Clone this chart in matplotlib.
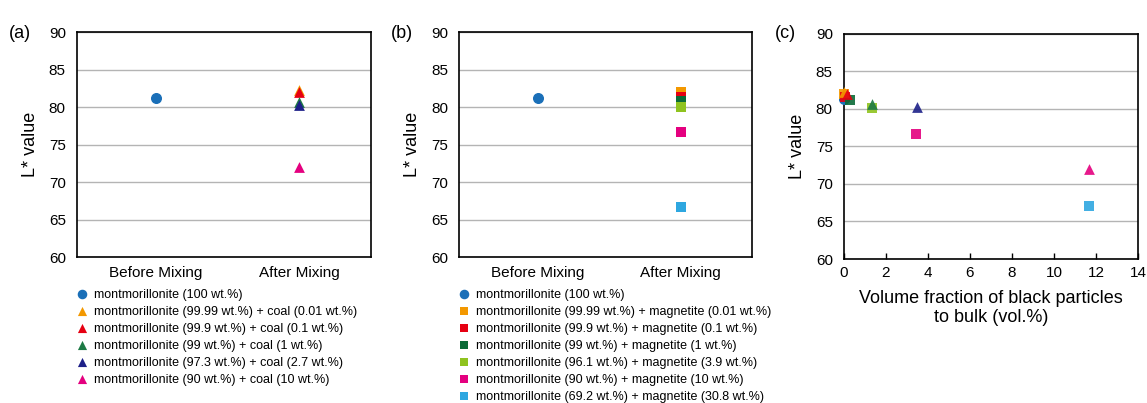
import matplotlib.pyplot as plt

plt.rcParams['font.family'] = ['Liberation Sans', 'DejaVu Sans']

# data
categories = ["Before Mixing", "After Mixing"]

base_label = "montmorillonite (100 wt.%)"
base_L = 81.3

coal_labels = ["montmorillonite (99.99 wt.%) + coal (0.01 wt.%)",
               "montmorillonite (99.9 wt.%) + coal (0.1 wt.%)",
               "montmorillonite (99 wt.%) + coal (1 wt.%)",
               "montmorillonite (97.3 wt.%) + coal (2.7 wt.%)",
               "montmorillonite (90 wt.%) + coal (10 wt.%)"]
coal_L = [82.3, 82.0, 80.7, 80.3, 72.0]
coal_vol = [0.013, 0.13, 1.35, 3.46, 11.65]
coal_colors = ["#f39800", "#e60012", "#1d7a45", "#1d2088", "#e4007f"]

mag_labels = ["montmorillonite (99.99 wt.%) + magnetite (0.01 wt.%)",
              "montmorillonite (99.9 wt.%) + magnetite (0.1 wt.%)",
              "montmorillonite (99 wt.%) + magnetite (1 wt.%)",
              "montmorillonite (96.1 wt.%) + magnetite (3.9 wt.%)",
              "montmorillonite (90 wt.%) + magnetite (10 wt.%)",
              "montmorillonite (69.2 wt.%) + magnetite (30.8 wt.%)"]
mag_L = [82.1, 81.4, 80.8, 80.1, 76.7, 66.7]
mag_L_c = [82.0, 81.6, 81.2, 80.1, 76.7, 67.0]
mag_vol = [0.003, 0.03, 0.3, 1.35, 3.43, 11.65]
mag_colors = ["#f39800", "#e60012", "#0b6b37", "#8fc31f", "#e4007f", "#2ea7e0"]
base_color = "#1a6fb8"

yticks = [60, 65, 70, 75, 80, 85, 90]

fig = plt.figure(figsize=(11.47, 4.03), dpi=100)

ax_a = fig.add_axes([0.0671, 0.3615, 0.2563, 0.5583])
ax_b = fig.add_axes([0.4002, 0.3615, 0.2555, 0.5583])
ax_c = fig.add_axes([0.7358, 0.3573, 0.2563, 0.5590])


def style_axes(ax):
    ax.set_ylim(60, 90)
    ax.set_yticks(yticks)
    ax.yaxis.grid(True, color="#b4b4b4", linewidth=1.0)
    ax.set_axisbelow(True)
    for sp in ax.spines.values():
        sp.set_linewidth(1.2)
    ax.tick_params(axis='y', length=0, pad=8, labelsize=11)
    ax.set_ylabel("L* value", fontsize=13, labelpad=7)


for ax in [ax_a, ax_b, ax_c]:
    style_axes(ax)

# panel (a)
ax_a.scatter([1], [base_L], marker='o', s=48, color=base_color, label=base_label, zorder=3)
for lab, v, c in zip(coal_labels, coal_L, coal_colors):
    ax_a.scatter([2], [v], marker='^', s=60, color=c, label=lab, zorder=3, linewidths=0)
ax_a.set_xlim(0.45, 2.5)
ax_a.set_xticks([1, 2])
ax_a.set_xticklabels(categories)
ax_a.tick_params(axis='x', length=0, pad=6, labelsize=11)

# panel (b)
ax_b.scatter([1], [base_L], marker='o', s=48, color=base_color, label=base_label, zorder=3)
for lab, v, c in zip(mag_labels, mag_L, mag_colors):
    ax_b.scatter([2], [v], marker='s', s=58, color=c, label=lab, zorder=3, linewidths=0)
ax_b.set_xlim(0.45, 2.5)
ax_b.set_xticks([1, 2])
ax_b.set_xticklabels(categories)
ax_b.tick_params(axis='x', length=0, pad=6, labelsize=11)

# panel (c)
ax_c.scatter([0], [base_L], marker='o', s=48, color=base_color, zorder=3, clip_on=False)
for x, v, c in zip(mag_vol, mag_L_c, mag_colors):
    ax_c.scatter([x], [v], marker='s', s=58, color=c, zorder=3, linewidths=0, alpha=0.9,
                 clip_on=False)
for x, v, c in zip(coal_vol, coal_L, coal_colors):
    ax_c.scatter([x], [v], marker='^', s=60, color=c, zorder=4, linewidths=0, alpha=0.9,
                 clip_on=False)
ax_c.set_xlim(0, 14)
ax_c.set_xticks(range(0, 15, 2))
ax_c.tick_params(axis='x', direction='in', length=4, width=1, pad=5, labelsize=11)
ax_c.set_xlabel("Volume fraction of black particles\nto bulk (vol.%)", fontsize=13,
                linespacing=1.2, labelpad=7)

# panel letters
fig.text(0.008, 0.905, "(a)", fontsize=13)
fig.text(0.341, 0.905, "(b)", fontsize=13)
fig.text(0.676, 0.905, "(c)", fontsize=13)

# legends below (a) and (b)
for ax, x0 in [(ax_a, 0.066), (ax_b, 0.399)]:
    ax.legend(loc='upper left', bbox_to_anchor=(x0, 0.284), bbox_transform=fig.transFigure,
              frameon=False, fontsize=9, handlelength=1.0, handletextpad=0.45,
              labelspacing=0.4, borderpad=0, borderaxespad=0, scatterpoints=1,
              markerscale=0.85)

fig.savefig("out.png", dpi=100)
